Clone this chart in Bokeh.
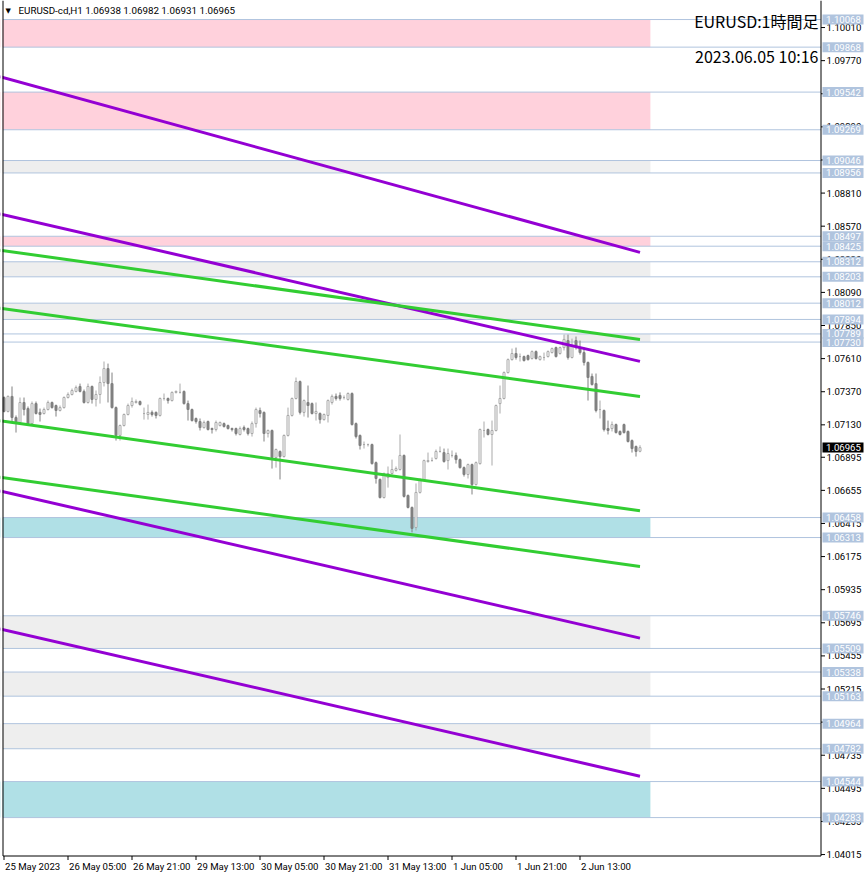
from bokeh.plotting import figure
from bokeh.models import ColumnDataSource, Range1d
from bokeh.embed import file_html
from bokeh.resources import INLINE
from bokeh.core.properties import value

# ---------------- data (EURUSD H1) ----------------
opens = [1.07328, 1.07227, 1.07336, 1.07183, 1.07147, 1.07292, 1.07248, 1.07139, 1.07284, 1.07220,
         1.07212, 1.07241, 1.07292, 1.07270, 1.07234, 1.07255, 1.07328, 1.07350, 1.07372, 1.07408,
         1.07372, 1.07292, 1.07408, 1.07314, 1.07350, 1.07437, 1.07538, 1.07429, 1.07255, 1.07053,
         1.07125, 1.07205, 1.07270, 1.07292, 1.07299, 1.07212, 1.07205, 1.07220, 1.07220, 1.07198,
         1.07321, 1.07321, 1.07306, 1.07365, 1.07365, 1.07372, 1.07284, 1.07241, 1.07176, 1.07154,
         1.07110, 1.07154, 1.07103, 1.07096, 1.07125, 1.07139, 1.07125, 1.07103, 1.07103, 1.07060,
         1.07110, 1.07103, 1.07067, 1.07139, 1.07234, 1.07220, 1.07067, 1.07089, 1.06893, 1.06937,
         1.06900, 1.07053, 1.07198, 1.07321, 1.07444, 1.07220, 1.07292, 1.07284, 1.07212, 1.07212,
         1.07168, 1.07198, 1.07292, 1.07336, 1.07343, 1.07328, 1.07314, 1.07357, 1.07139, 1.07053,
         1.06987, 1.06987, 1.06987, 1.06856, 1.06734, 1.06603, 1.06748, 1.06777, 1.06799, 1.06806,
         1.06908, 1.06618, 1.06531, 1.06386, 1.06640, 1.06734, 1.06864, 1.06871, 1.06886, 1.06937,
         1.06929, 1.06871, 1.06908, 1.06908, 1.06878, 1.06820, 1.06770, 1.06842, 1.06697, 1.06849,
         1.07089, 1.07096, 1.07060, 1.07089, 1.07284, 1.07321, 1.07509, 1.07603, 1.07647, 1.07625,
         1.07625, 1.07632, 1.07611, 1.07661, 1.07603, 1.07618, 1.07625, 1.07654, 1.07690, 1.07647,
         1.07690, 1.07741, 1.07618, 1.07741, 1.07690, 1.07654, 1.07582, 1.07481, 1.07429, 1.07241,
         1.07234, 1.07103, 1.07103, 1.07132, 1.07082, 1.07132, 1.07082, 1.07016, 1.06973, 1.06938]

highs = [1.07336, 1.07343, 1.07408, 1.07198, 1.07328, 1.07328, 1.07263, 1.07299, 1.07299, 1.07248,
         1.07255, 1.07306, 1.07299, 1.07277, 1.07270, 1.07336, 1.07365, 1.07393, 1.07415, 1.07429,
         1.07386, 1.07429, 1.07415, 1.07379, 1.07481, 1.07589, 1.07574, 1.07509, 1.07263, 1.07132,
         1.07212, 1.07284, 1.07328, 1.07314, 1.07306, 1.07255, 1.07277, 1.07234, 1.07227, 1.07328,
         1.07357, 1.07328, 1.07372, 1.07379, 1.07429, 1.07379, 1.07306, 1.07248, 1.07183, 1.07176,
         1.07161, 1.07161, 1.07110, 1.07161, 1.07154, 1.07147, 1.07132, 1.07110, 1.07110, 1.07118,
         1.07125, 1.07110, 1.07154, 1.07255, 1.07255, 1.07227, 1.07096, 1.07096, 1.06958, 1.06944,
         1.07060, 1.07255, 1.07328, 1.07473, 1.07451, 1.07314, 1.07415, 1.07292, 1.07292, 1.07220,
         1.07212, 1.07314, 1.07350, 1.07357, 1.07365, 1.07343, 1.07365, 1.07365, 1.07147, 1.07060,
         1.07009, 1.06994, 1.06994, 1.06864, 1.06741, 1.06784, 1.06828, 1.06878, 1.06828, 1.07060,
         1.06915, 1.06625, 1.06538, 1.06705, 1.06741, 1.06878, 1.06929, 1.06893, 1.06951, 1.06973,
         1.06958, 1.06958, 1.06944, 1.06929, 1.06886, 1.06828, 1.06849, 1.06849, 1.06864, 1.07103,
         1.07154, 1.07103, 1.07161, 1.07277, 1.07415, 1.07517, 1.07611, 1.07683, 1.07690, 1.07647,
         1.07632, 1.07639, 1.07669, 1.07669, 1.07632, 1.07654, 1.07669, 1.07690, 1.07697, 1.07697,
         1.07784, 1.07784, 1.07755, 1.07770, 1.07741, 1.07690, 1.07589, 1.07502, 1.07502, 1.07306,
         1.07241, 1.07161, 1.07154, 1.07139, 1.07089, 1.07139, 1.07089, 1.07024, 1.06980, 1.06982]

lows = [1.07220, 1.07220, 1.07147, 1.07074, 1.07139, 1.07198, 1.07132, 1.07132, 1.07205, 1.07154,
        1.07205, 1.07234, 1.07248, 1.07190, 1.07227, 1.07248, 1.07321, 1.07343, 1.07365, 1.07365,
        1.07284, 1.07284, 1.07284, 1.07263, 1.07284, 1.07408, 1.07292, 1.07248, 1.07016, 1.07016,
        1.07118, 1.07198, 1.07255, 1.07284, 1.07270, 1.07168, 1.07168, 1.07190, 1.07176, 1.07190,
        1.07306, 1.07284, 1.07299, 1.07357, 1.07357, 1.07277, 1.07161, 1.07154, 1.07139, 1.07089,
        1.07103, 1.07089, 1.07067, 1.07082, 1.07118, 1.07110, 1.07096, 1.07082, 1.07053, 1.07053,
        1.07082, 1.07053, 1.07045, 1.07110, 1.07183, 1.07009, 1.07038, 1.06813, 1.06820, 1.06734,
        1.06893, 1.07045, 1.07190, 1.07314, 1.07205, 1.07190, 1.07183, 1.07205, 1.07161, 1.07139,
        1.07161, 1.07147, 1.07277, 1.07306, 1.07306, 1.07314, 1.07306, 1.07125, 1.07031, 1.06951,
        1.06958, 1.06973, 1.06842, 1.06704, 1.06596, 1.06596, 1.06675, 1.06770, 1.06791, 1.06799,
        1.06603, 1.06524, 1.06350, 1.06364, 1.06632, 1.06726, 1.06856, 1.06864, 1.06878, 1.06929,
        1.06856, 1.06806, 1.06893, 1.06849, 1.06813, 1.06755, 1.06741, 1.06625, 1.06690, 1.06842,
        1.07038, 1.07053, 1.06835, 1.07082, 1.07212, 1.07314, 1.07502, 1.07596, 1.07603, 1.07589,
        1.07589, 1.07596, 1.07603, 1.07603, 1.07596, 1.07596, 1.07618, 1.07647, 1.07618, 1.07639,
        1.07669, 1.07603, 1.07611, 1.07676, 1.07639, 1.07560, 1.07306, 1.07415, 1.07220, 1.07176,
        1.07082, 1.07060, 1.07082, 1.07067, 1.07053, 1.07067, 1.07002, 1.06929, 1.06900, 1.06931]

closes = [1.07227, 1.07336, 1.07183, 1.07147, 1.07292, 1.07241, 1.07139, 1.07284, 1.07212, 1.07205,
          1.07241, 1.07292, 1.07255, 1.07234, 1.07255, 1.07328, 1.07350, 1.07379, 1.07400, 1.07372,
          1.07292, 1.07408, 1.07314, 1.07350, 1.07437, 1.07538, 1.07429, 1.07255, 1.07053, 1.07125,
          1.07205, 1.07270, 1.07299, 1.07299, 1.07277, 1.07212, 1.07220, 1.07205, 1.07198, 1.07321,
          1.07321, 1.07306, 1.07365, 1.07372, 1.07365, 1.07284, 1.07241, 1.07161, 1.07154, 1.07110,
          1.07147, 1.07096, 1.07096, 1.07147, 1.07147, 1.07118, 1.07103, 1.07096, 1.07067, 1.07103,
          1.07096, 1.07067, 1.07139, 1.07241, 1.07212, 1.07067, 1.07089, 1.06893, 1.06951, 1.06900,
          1.07053, 1.07198, 1.07321, 1.07444, 1.07220, 1.07306, 1.07270, 1.07212, 1.07227, 1.07168,
          1.07205, 1.07306, 1.07336, 1.07321, 1.07321, 1.07328, 1.07357, 1.07132, 1.07045, 1.06980,
          1.06987, 1.06987, 1.06849, 1.06741, 1.06603, 1.06777, 1.06777, 1.06806, 1.06813, 1.06908,
          1.06611, 1.06531, 1.06379, 1.06640, 1.06734, 1.06871, 1.06871, 1.06871, 1.06937, 1.06937,
          1.06864, 1.06922, 1.06908, 1.06878, 1.06820, 1.06770, 1.06842, 1.06697, 1.06856, 1.07096,
          1.07089, 1.07060, 1.07089, 1.07270, 1.07321, 1.07509, 1.07603, 1.07647, 1.07618, 1.07625,
          1.07596, 1.07603, 1.07661, 1.07611, 1.07625, 1.07618, 1.07661, 1.07683, 1.07625, 1.07690,
          1.07749, 1.07618, 1.07705, 1.07690, 1.07654, 1.07582, 1.07473, 1.07422, 1.07234, 1.07241,
          1.07096, 1.07089, 1.07132, 1.07074, 1.07060, 1.07074, 1.07009, 1.06958, 1.06937, 1.06965]

time_labels = ["25 May 2023", "26 May 05:00", "26 May 21:00", "29 May 13:00", "30 May 05:00",
               "30 May 21:00", "31 May 13:00", "1 Jun 05:00", "1 Jun 21:00", "2 Jun 13:00"]
bars_per_label = 16

price_ticks = [1.10010, 1.09770, 1.09530, 1.09290, 1.09050, 1.08810, 1.08570, 1.08330, 1.08090,
               1.07850, 1.07610, 1.07370, 1.07130, 1.06895, 1.06655, 1.06415, 1.06175, 1.05935,
               1.05695, 1.05455, 1.05215, 1.04975, 1.04735, 1.04495, 1.04255, 1.04015]

zone_top = [1.10068, 1.09542, 1.09046, 1.08497, 1.08312, 1.08012, 1.07789, 1.06458, 1.05746,
            1.05338, 1.04964, 1.04544]
zone_bottom = [1.09868, 1.09269, 1.08956, 1.08425, 1.08203, 1.07894, 1.07730, 1.06313, 1.05509,
               1.05163, 1.04782, 1.04283]
zone_kind = ["pink", "pink", "grey", "pink", "grey", "grey", "grey", "blue", "grey", "grey",
             "grey", "blue"]
zone_start_bar = [-1, -1, -1, -1, -1, -1, 140, -1, -1, -1, -1, -1]
zone_end_bar = 161.6

purple_start = [1.09653, 1.08659, 1.06651, 1.05651]
purple_end = [1.08380, 1.07590, 1.05584, 1.04583]
green_start = [1.08396, 1.07976, 1.07159, 1.06750]
green_end = [1.07749, 1.07335, 1.06507, 1.06103]
line_start_bar = -1
line_end_bar = 159

symbol_header = "EURUSD-cd,H1  1.06938 1.06982 1.06931 1.06965"
title_text = "EURUSD:1時間足"
stamp_text = "2023.06.05 10:16"

# ---------------- styles / layout ----------------
ZONE_COLORS = {"pink": "#ffd1dc", "grey": "#eeeeee", "blue": "#b0e0e6"}
LEVEL_LINE = "#b0c4de"
BULL = "#a9a9a9"
BEAR = "#808080"
PURPLE = "#9400d3"
GREEN = "#32cd32"
AXIS_FONT = "Roboto"

W, H = 866, 876
BAR_PX = 4.0
FIRST_BAR_PX = 3.5
AXIS_PX = 820.5      # price scale line
BOTTOM_PX = 855.5    # time scale line
LEFT_PX = 2.5        # left border
PRICE_TOP = 1.10206
PRICE_PER_PX = 0.00007249

X0 = -FIRST_BAR_PX / BAR_PX
X1 = X0 + W / BAR_PX
Y1 = PRICE_TOP
Y0 = PRICE_TOP - H * PRICE_PER_PX


def bx(px):
    return X0 + px / BAR_PX


def py(ypx):
    return Y1 - ypx * PRICE_PER_PX


p = figure(width=W, height=H, output_backend="svg", toolbar_location=None,
           x_range=Range1d(X0, X1), y_range=Range1d(Y0, Y1),
           x_axis_location=None, y_axis_location=None,
           min_border_left=0, min_border_right=0, min_border_top=0, min_border_bottom=0,
           background_fill_color="white", border_fill_color="white",
           outline_line_color=None)
p.grid.visible = False

ax_x = bx(AXIS_PX)
y_bot = py(BOTTOM_PX)

# zones and level lines
p.quad(left=zone_start_bar, right=[zone_end_bar] * len(zone_top), top=zone_top,
       bottom=zone_bottom, fill_color=[ZONE_COLORS[k] for k in zone_kind],
       line_color=None)
levels = zone_top + zone_bottom
p.segment(x0=[bx(LEFT_PX)] * len(levels), y0=levels, x1=[ax_x] * len(levels), y1=levels,
          line_color=LEVEL_LINE, line_width=1)

# candles
idx = list(range(len(opens)))
up = [i for i in idx if closes[i] >= opens[i]]
dn = [i for i in idx if closes[i] < opens[i]]


def src(sel):
    return ColumnDataSource(dict(
        x=list(sel), h=[highs[i] for i in sel], l=[lows[i] for i in sel],
        top=[max(opens[i], closes[i]) for i in sel],
        bot=[min(opens[i], closes[i]) for i in sel]))


su, sd = src(up), src(dn)
p.segment(x0="x", y0="l", x1="x", y1="h", source=su, line_color=BULL, line_width=1)
p.segment(x0="x", y0="l", x1="x", y1="h", source=sd, line_color=BEAR, line_width=1)
p.vbar(x="x", top="top", bottom="bot", width=0.5, source=su, fill_color="white",
       line_color=BULL, line_width=1)
p.vbar(x="x", top="top", bottom="bot", width=0.5, source=sd, fill_color=BEAR,
       line_color=BEAR, line_width=1)

# trend channels
n_p = len(purple_start)
p.segment(x0=[line_start_bar] * n_p, y0=purple_start, x1=[line_end_bar] * n_p,
          y1=purple_end, line_color=PURPLE, line_width=3)
n_g = len(green_start)
p.segment(x0=[line_start_bar] * n_g, y0=green_start, x1=[line_end_bar] * n_g,
          y1=green_end, line_color=GREEN, line_width=3)

# white margin outside the chart window (left strip, below the time scale)
p.quad(left=[X0], right=[bx(LEFT_PX - 0.5)], top=[Y1], bottom=[Y0],
       fill_color="white", line_color=None)
p.quad(left=[X0], right=[X1], top=[y_bot], bottom=[Y0], fill_color="white", line_color=None)
p.quad(left=[ax_x], right=[X1], top=[Y1], bottom=[Y0], fill_color="white", line_color=None)

# chart window borders
p.segment(x0=[bx(LEFT_PX), bx(LEFT_PX), ax_x], y0=[y_bot, y_bot, y_bot],
          x1=[bx(LEFT_PX), ax_x, ax_x], y1=[Y1, y_bot, Y1],
          line_color="black", line_width=1)

# price scale: ticks and labels
nt = len(price_ticks)
p.segment(x0=[ax_x] * nt, y0=price_ticks, x1=[bx(AXIS_PX + 4)] * nt, y1=price_ticks,
          line_color="black", line_width=1)
p.text(x=[bx(AXIS_PX + 5.5)] * nt, y=price_ticks, text=[f"{v:.5f}" for v in price_ticks],
       text_font=value(AXIS_FONT), text_font_size="9.6px", text_color="black",
       text_baseline="middle", text_align="left")

# time scale: ticks and labels
tick_pos = [i * bars_per_label for i in range(len(time_labels))]
p.segment(x0=tick_pos, y0=[y_bot] * len(tick_pos), x1=tick_pos,
          y1=[py(BOTTOM_PX + 4)] * len(tick_pos), line_color="black", line_width=1)
p.text(x=[t + 0.25 for t in tick_pos], y=[py(866)] * len(tick_pos), text=time_labels,
       text_font=value(AXIS_FONT), text_font_size="9.6px", text_color="black",
       text_baseline="middle", text_align="left")

# boxed level prices and current price
box_l, box_r = bx(AXIS_PX + 1.5), bx(AXIS_PX + 42.5)
half = 5 * PRICE_PER_PX
box_prices = levels + [closes[-1]]
box_fill = [LEVEL_LINE] * len(levels) + ["black"]
p.quad(left=[box_l] * len(box_prices), right=[box_r] * len(box_prices),
       top=[v + half for v in box_prices], bottom=[v - half for v in box_prices],
       fill_color=box_fill, line_color=None)
p.text(x=[bx(AXIS_PX + 5)] * len(box_prices), y=box_prices,
       text=[f"{v:.5f}" for v in box_prices], text_font=value(AXIS_FONT),
       text_font_size="9.6px", text_color="white", text_baseline="middle",
       text_align="left")

# header texts
p.text(x=[bx(5)], y=[py(10)], text=["▼"], text_font=value("DejaVu Sans"),
       text_font_size="7px", text_color="black", text_baseline="middle")
p.text(x=[bx(18)], y=[py(10)], text=[symbol_header], text_font=value(AXIS_FONT),
       text_font_size="9.8px", text_color="black", text_baseline="middle")
p.text(x=[bx(818)] * 2, y=[py(20), py(55)], text=[title_text, stamp_text],
       text_font=value("Noto Sans CJK JP"), text_font_size="16px", text_color="black",
       text_baseline="middle", text_align="right")

html = file_html(p, INLINE, title="EURUSD H1")
html = html.replace("<head>", "<head><style>html,body{margin:0;padding:0;overflow:hidden}</style>", 1)
with open("out.html", "w", encoding="utf-8") as f:
    f.write(html)
